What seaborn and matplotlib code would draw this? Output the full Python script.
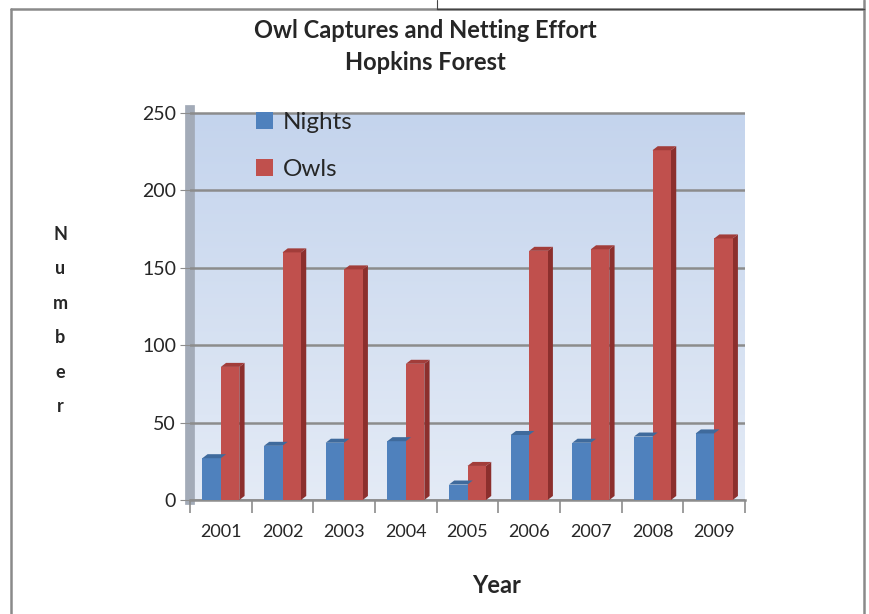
import matplotlib
matplotlib.use("Agg")
import matplotlib.pyplot as plt
import numpy as np
import pandas as pd
import seaborn as sns
from matplotlib.colors import LinearSegmentedColormap
from matplotlib.patches import Polygon
from matplotlib.lines import Line2D

years = ["2001", "2002", "2003", "2004", "2005", "2006", "2007", "2008", "2009"]
nights = [27, 35, 37, 38, 10, 42, 37, 41, 43]
owls = [86, 160, 149, 88, 22, 161, 162, 226, 169]
series_names = ["Nights", "Owls"]
y_ticks = [0, 50, 100, 150, 200, 250]

colors = {"Nights": "#4F81BD", "Owls": "#C0504D"}
side_colors = {"Nights": "#385D8A", "Owls": "#8C2F2D"}
top_colors = {"Nights": "#3F6A9C", "Owls": "#A23D3A"}

df = pd.DataFrame({
    "Year": years * 2,
    "Value": nights + owls,
    "Series": [series_names[0]] * len(years) + [series_names[1]] * len(years),
})

sns.set_style("white")
plt.rcParams["font.family"] = ["Lato", "DejaVu Sans"]

fig = plt.figure(figsize=(8.69, 6.14), dpi=100)
ax = fig.add_axes([190 / 869, 114 / 614, 555 / 869, 390 / 614])

# wall gradient
grad = np.linspace(0, 1, 256).reshape(-1, 1)
wall = LinearSegmentedColormap.from_list("wall", ["#E4EBF6", "#C4D4ED"])
ax.imshow(grad, extent=[-0.5, 8.5, 0, 250], origin="lower", aspect="auto",
          cmap=wall, zorder=0)

sns.barplot(data=df, x="Year", y="Value", hue="Series", palette=colors,
            width=0.6, gap=0, saturation=1, linewidth=0, ax=ax, zorder=3, legend=False)

# fake depth on each bar
dx, dy = 0.085, 2.6
for cont, name in zip(ax.containers, series_names):
    for bar in cont:
        x0, y0 = bar.get_x(), bar.get_y()
        x1, y1 = x0 + bar.get_width(), y0 + bar.get_height()
        ax.add_patch(Polygon([(x1, y0), (x1 + dx, y0 + dy), (x1 + dx, y1 + dy), (x1, y1)],
                             closed=True, fc=side_colors[name], ec="none", zorder=2.9))
        ax.add_patch(Polygon([(x0, y1), (x0 + dx, y1 + dy), (x1 + dx, y1 + dy), (x1, y1)],
                             closed=True, fc=top_colors[name], ec="none", zorder=3.1))

ax.set_xlim(-0.5, 8.5)
ax.set_ylim(0, 252)
ax.set_yticks(y_ticks)
ax.yaxis.grid(True, color="#8C8C8C", lw=1.8, zorder=1)
ax.set_axisbelow(False)
for s in ["top", "right"]:
    ax.spines[s].set_visible(False)
ax.spines["left"].set_color("#A3ABB8")
ax.spines["left"].set_linewidth(7)
ax.spines["bottom"].set_color("#8C8C8C")
ax.spines["bottom"].set_linewidth(1.8)

ax.tick_params(axis="y", labelsize=14, length=7, color="#8C8C8C", pad=3, left=True)
ax.tick_params(axis="x", labelsize=13, length=0, pad=17)
ax.set_xticks(np.arange(-0.5, 9, 1), minor=True)
ax.tick_params(axis="x", which="minor", length=9, color="#8C8C8C", width=1.2, bottom=True)

ax.set_xlabel("Year", fontsize=17, fontweight="bold", labelpad=24)
ax.xaxis.set_label_coords(0.553, -0.19)
ax.set_ylabel("N\nu\nm\nb\ne\nr", rotation=0, fontsize=13, fontweight="bold",
              linespacing=2.25, va="center", ha="center")
ax.yaxis.set_label_coords(-0.234, 0.46)

handles = [plt.Rectangle((0, 0), 1, 1, fc=colors[n], ec="none", lw=0) for n in series_names]
ax.legend(handles, series_names, loc="upper left", bbox_to_anchor=(0.08, 1.05),
          frameon=False, fontsize=17.5, handlelength=0.7, handleheight=0.7,
          handletextpad=0.4, labelspacing=1.05)

fig.text(425 / 869, 1 - 30 / 614, "Owl Captures and Netting Effort", ha="center",
         va="center", fontsize=17, fontweight="bold")
fig.text(425 / 869, 1 - 63 / 614, "Hopkins Forest", ha="center",
         va="center", fontsize=17, fontweight="bold")

# surrounding frame
frame_c = "#8A8A8A"
fig.add_artist(Line2D([11 / 869, 11 / 869], [0, 1 - 9 / 614], color=frame_c, lw=1.8))
fig.add_artist(Line2D([11 / 869, 864 / 869], [1 - 9 / 614, 1 - 9 / 614], color=frame_c, lw=1.8))
fig.add_artist(Line2D([864 / 869, 864 / 869], [0, 1], color=frame_c, lw=1.8))
fig.add_artist(Line2D([437 / 869, 437 / 869], [1 - 9 / 614, 1], color="#444444", lw=0.8))
fig.add_artist(Line2D([437 / 869, 864 / 869], [1 - 9 / 614, 1 - 9 / 614], color="#444444", lw=1.0))

fig.savefig("out.png", dpi=100)
